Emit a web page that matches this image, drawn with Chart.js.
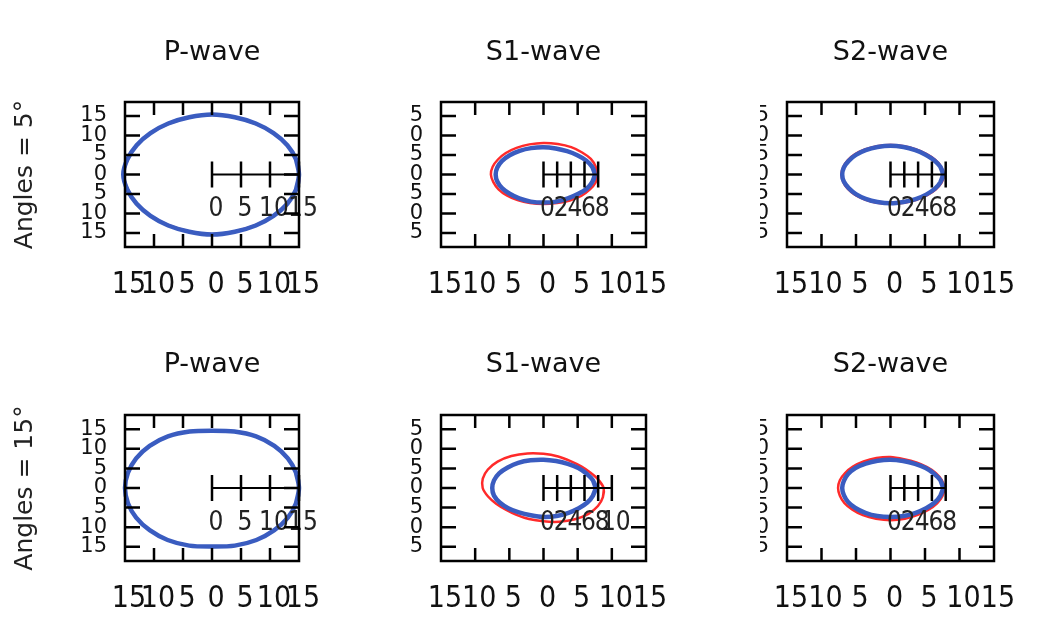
<!DOCTYPE html>
<html><head><meta charset="utf-8">
<script src="https://cdn.jsdelivr.net/npm/chart.js@4.4.1/dist/chart.umd.min.js"></script>
<style>
html,body{margin:0;padding:0;background:#fff;width:1044px;height:628px;overflow:hidden;position:relative}
canvas{position:absolute}
</style></head><body>
<canvas id="c00" width="350" height="314" style="left:0;top:0"></canvas>
<canvas id="c01" width="290" height="314" style="left:410px;top:0"></canvas>
<canvas id="c02" width="284" height="314" style="left:760px;top:0"></canvas>
<canvas id="c10" width="350" height="314" style="left:0;top:314px"></canvas>
<canvas id="c11" width="290" height="314" style="left:410px;top:314px"></canvas>
<canvas id="c12" width="284" height="314" style="left:760px;top:314px"></canvas>
<script>
// polar angles (degrees) at which the radii were read
const angles = [0,15,30,45,60,75,90,105,120,135,150,165,180,195,210,225,240,255,270,285,300,315,330,345];

// Angles = 5°
const pBlue5  = [15.0,15.0,15.0,15.0,15.1,15.2,15.4,15.2,15.1,15.0,15.0,15.1,15.3,15.1,15.0,15.0,15.1,15.2,15.4,15.2,15.1,15.0,15.0,15.0];
const pRed5   = [15.1,15.0,15.0,15.0,15.0,15.1,15.3,15.1,15.0,15.0,15.0,15.0,15.2,15.0,15.0,15.0,15.0,15.1,15.3,15.1,15.0,15.0,15.0,15.1];
const s1Blue5 = [7.5,7.4,7.2,7.0,6.9,6.9,7.0,7.0,7.0,7.0,7.0,7.0,7.0,7.0,7.0,7.0,7.1,7.2,7.2,7.2,7.1,7.1,7.3,7.4];
const s1Red5  = [7.9,7.9,8.0,8.0,8.1,8.1,8.1,8.0,7.9,7.8,7.7,7.7,7.7,7.6,7.6,7.6,7.6,7.6,7.6,7.6,7.7,7.8,7.8,7.9];
const s2Blue5 = [7.6,7.5,7.3,7.2,7.2,7.3,7.4,7.3,7.2,7.1,7.0,7.0,7.0,7.0,7.0,7.1,7.2,7.3,7.4,7.3,7.3,7.3,7.4,7.5];
const s2Red5  = [7.7,7.6,7.5,7.4,7.4,7.5,7.6,7.5,7.4,7.3,7.2,7.1,7.1,7.1,7.2,7.3,7.4,7.5,7.5,7.5,7.5,7.5,7.6,7.7];

// Angles = 15°
const pBlue15  = [15.0,15.0,15.1,15.2,15.2,14.9,14.6,14.9,15.2,15.2,15.1,15.0,15.0,15.0,15.1,15.2,15.3,15.2,14.9,15.2,15.3,15.2,15.1,15.0];
const pRed15   = [15.0,15.0,15.1,15.2,15.2,14.9,14.7,14.9,15.2,15.2,15.1,15.0,15.0,15.0,15.1,15.2,15.3,15.2,15.0,15.2,15.3,15.2,15.1,15.0];
const s1Blue15 = [7.6,7.5,7.3,7.2,7.1,7.1,7.2,7.3,7.4,7.4,7.5,7.5,7.5,7.5,7.4,7.3,7.2,7.2,7.4,7.4,7.3,7.3,7.4,7.5];
const s1Red15  = [8.8,8.3,7.9,7.8,7.9,8.3,8.7,9.1,9.4,9.5,9.4,9.2,8.9,8.4,8.0,7.8,7.9,8.2,8.5,8.9,9.2,9.3,9.2,9.0];
const s2Blue15 = [7.6,7.5,7.3,7.2,7.1,7.1,7.2,7.2,7.2,7.2,7.1,7.0,7.0,7.0,7.1,7.2,7.3,7.4,7.4,7.4,7.3,7.3,7.4,7.5];
const s2Red15  = [7.8,7.7,7.6,7.5,7.5,7.6,7.9,7.9,7.8,7.7,7.6,7.6,7.6,7.6,7.7,7.8,8.0,8.1,8.2,8.1,7.9,7.8,7.8,7.8];

// axis ticks
const xTicks = [-15,-10,-5,0,5,10,15];
const yTicks = [-15,-10,-5,0,5,10,15];
const radTicksP = [0,5,10,15];
const radTicksS = [0,2,4,6,8];
const radTicksS1b = [0,2,4,6,8,10];

const titles = ['P-wave','S1-wave','S2-wave'];
const rowLabels = ['Angles = 5°','Angles = 15°'];

const NARROW = '"Liberation Sans Narrow","DejaVu Sans Condensed","Liberation Sans",sans-serif';

// polar -> cartesian; the closed curve is wrapped by one point at each end so the smoothing has no kink
function toXY(r){
  const pts = r.map((v,i)=>({x: v*Math.cos(angles[i]*Math.PI/180), y: v*Math.sin(angles[i]*Math.PI/180)}));
  return [pts[pts.length-1], ...pts, pts[0], pts[1]];
}

function makeFrame(radTicks){
  return {
    id:'frame',
    afterDatasetsDraw(chart){
      const {ctx, scales:{x,y}} = chart;
      const y0 = y.getPixelForValue(0);
      const xs = radTicks.map(v=>x.getPixelForValue(v));
      ctx.save();
      ctx.strokeStyle='#000';
      ctx.lineWidth=2;
      ctx.beginPath(); ctx.moveTo(xs[0],y0); ctx.lineTo(xs[xs.length-1],y0); ctx.stroke();
      ctx.lineWidth=2.5;
      xs.forEach(px=>{ctx.beginPath(); ctx.moveTo(px,y0-13); ctx.lineTo(px,y0+13); ctx.stroke();});
      ctx.fillStyle='#222';
      ctx.font='26px '+NARROW;
      ctx.textAlign='center'; ctx.textBaseline='middle';
      radTicks.forEach((v,i)=>ctx.fillText(String(v), xs[i]+4, y0+35));
      ctx.restore();
    },
    afterDraw(chart){
      const {ctx, chartArea:a, scales:{x,y}} = chart;
      ctx.save();
      ctx.strokeStyle='#000';
      ctx.lineWidth=2.5;
      ctx.strokeRect(a.left,a.top,a.right-a.left,a.bottom-a.top);
      x.ticks.forEach(t=>{
        const px=x.getPixelForValue(t.value);
        if(px<=a.left+2||px>=a.right-2) return;
        ctx.beginPath(); ctx.moveTo(px,a.top); ctx.lineTo(px,a.top+13);
        ctx.moveTo(px,a.bottom); ctx.lineTo(px,a.bottom-13); ctx.stroke();
      });
      y.ticks.forEach(t=>{
        const py=y.getPixelForValue(t.value);
        if(py<=a.top+2||py>=a.bottom-2) return;
        ctx.beginPath(); ctx.moveTo(a.left,py); ctx.lineTo(a.left+15,py);
        ctx.moveTo(a.right,py); ctx.lineTo(a.right-15,py); ctx.stroke();
      });
      ctx.restore();
    }
  };
}

function makeChart(id, row, col, blueR, redR, radTicks, yWidth, padRight){
  const titlePad = row===0 ? {top:37,bottom:32.6} : {top:35,bottom:33.6};
  const yScale = {
    type:'linear', min:-18.6, max:18.6,
    afterBuildTicks:s=>{s.ticks=yTicks.map(v=>({value:v}));},
    afterFit:s=>{s.width=yWidth; s.paddingTop=0; s.paddingBottom=0;},
    grid:{display:false,drawTicks:false}, border:{display:false},
    ticks:{padding:18, autoSkip:false, color:'#111', font:{family:'DejaVu Sans',size:21}, callback:v=>String(Math.abs(v))}
  };
  if(col===0){
    yScale.title={display:true,text:rowLabels[row],color:'#222',font:{family:'DejaVu Sans',size:25},padding:{top:10,bottom:0}};
  }
  return new Chart(document.getElementById(id),{
    type:'scatter',
    data:{datasets:[
      {data:toXY(blueR), showLine:true, borderColor:'#3a5cc0', borderWidth:4.5, pointRadius:0, tension:0.3, order:1, clip:false},
      {data:toXY(redR), showLine:true, borderColor:'#ff2a2a', borderWidth:2.5, pointRadius:0, tension:0.3, order:2, clip:false}
    ]},
    options:{
      responsive:false, animation:false, devicePixelRatio:1,
      layout:{padding:{left:0,right:padRight,top:0,bottom:0}},
      plugins:{
        legend:{display:false}, tooltip:{enabled:false},
        title:{display:true, fullSize:false, text:titles[col], color:'#111', font:{family:'DejaVu Sans',size:27,weight:'normal'}, padding:titlePad}
      },
      scales:{
        x:{
          type:'linear', min:-15, max:15,
          afterBuildTicks:s=>{s.ticks=xTicks.map(v=>({value:v}));},
          afterFit:s=>{s.height=67; s.paddingLeft=0; s.paddingRight=0;},
          grid:{display:false,drawTicks:false}, border:{display:false},
          ticks:{padding:20, labelOffset:4, autoSkip:false, maxRotation:0, minRotation:0, color:'#111', font:{family:NARROW,size:30}, callback:v=>String(Math.abs(v))}
        },
        y:yScale
      }
    },
    plugins:[makeFrame(radTicks)]
  });
}

makeChart('c00',0,0,pBlue5,pRed5,radTicksP,125,51);
makeChart('c01',0,1,s1Blue5,s1Red5,radTicksS,31,54);
makeChart('c02',0,2,s2Blue5,s2Red5,radTicksS,27,50);
makeChart('c10',1,0,pBlue15,pRed15,radTicksP,125,51);
makeChart('c11',1,1,s1Blue15,s1Red15,radTicksS1b,31,54);
makeChart('c12',1,2,s2Blue15,s2Red15,radTicksS,27,50);
</script>
</body></html>
